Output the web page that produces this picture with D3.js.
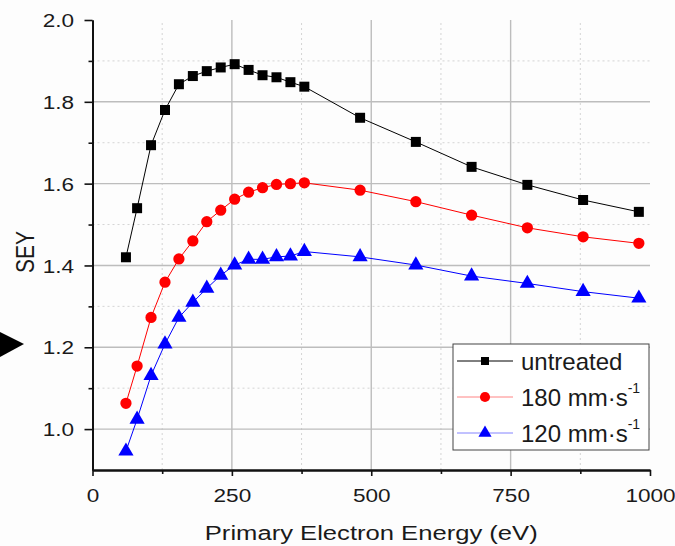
<!DOCTYPE html>
<html>
<head>
<meta charset="utf-8">
<script src="https://cdn.jsdelivr.net/npm/d3@7"></script>
<style>
  body { margin: 0; background: #fdfdfd; }
  svg { display: block; font-family: "Liberation Sans", Arial, sans-serif; }
</style>
</head>
<body>
<svg id="chart" width="675" height="546"></svg>
<script>
// primary electron energy (eV)
var energy = [60, 80, 105, 130, 155, 180, 205, 230, 255, 280, 305, 330, 355, 380, 480, 580, 680, 780, 880, 980];
var untreated = [1.420, 1.540, 1.694, 1.780, 1.843, 1.863, 1.875, 1.884, 1.892, 1.878, 1.865, 1.860, 1.848, 1.837, 1.761, 1.702, 1.641, 1.597, 1.560, 1.531];
var speed180 = [1.063, 1.154, 1.273, 1.359, 1.416, 1.460, 1.507, 1.535, 1.562, 1.579, 1.590, 1.598, 1.600, 1.602, 1.584, 1.556, 1.523, 1.492, 1.470, 1.454];
var speed120 = [0.946, 1.024, 1.131, 1.208, 1.273, 1.310, 1.344, 1.376, 1.401, 1.415, 1.415, 1.421, 1.423, 1.434, 1.421, 1.401, 1.374, 1.356, 1.336, 1.320];

var xMajor = [0, 250, 500, 750, 1000];
var xMinor = [125, 375, 625, 875];
var yMajor = [1.0, 1.2, 1.4, 1.6, 1.8, 2.0];
var yMinor = [1.1, 1.3, 1.5, 1.7, 1.9];

var seriesNames = ["untreated", "180 mm\u00b7s", "120 mm\u00b7s"];
var seriesSup = ["", "-1", "-1"];
var seriesColors = ["#000000", "#ff0000", "#0000ff"];
var seriesShapes = [d3.symbolSquare, d3.symbolCircle, d3.symbolTriangle];

var svg = d3.select("#chart");
var stretch = 1.22; // text in the picture is a bit wider than tall

var x = d3.scaleLinear().domain([0, 1000]).range([92.5, 650]);
var y = d3.scaleLinear().domain([0.9, 2.0]).range([470, 20]);

// grid
var grid = svg.append("g");
grid.selectAll(".vmin").data(xMinor).enter().append("line")
    .attr("x1", d => x(d)).attr("x2", d => x(d))
    .attr("y1", y(0.9)).attr("y2", y(2.0))
    .attr("stroke", "#d4d4d4").attr("stroke-width", 1).attr("stroke-dasharray", "2,3");
grid.selectAll(".hmin").data(yMinor).enter().append("line")
    .attr("x1", x(0)).attr("x2", x(1000))
    .attr("y1", d => y(d)).attr("y2", d => y(d))
    .attr("stroke", "#d4d4d4").attr("stroke-width", 1).attr("stroke-dasharray", "2,3");
grid.selectAll(".vmaj").data(xMajor.slice(1, 4)).enter().append("line")
    .attr("x1", d => x(d)).attr("x2", d => x(d))
    .attr("y1", y(0.9)).attr("y2", y(2.0))
    .attr("stroke", "#bdbdbd").attr("stroke-width", 1.4);
grid.selectAll(".hmaj").data(yMajor.slice(0, 5)).enter().append("line")
    .attr("x1", x(0)).attr("x2", x(1000))
    .attr("y1", d => y(d)).attr("y2", d => y(d))
    .attr("stroke", "#bdbdbd").attr("stroke-width", 1.4);

// axes
var xAxis = svg.append("g").attr("transform", "translate(0," + y(0.9) + ")")
    .call(d3.axisBottom(x).tickValues(xMajor).tickSize(6).tickSizeOuter(0).tickFormat(d3.format("d")));
var xAxisMinor = svg.append("g").attr("transform", "translate(0," + y(0.9) + ")")
    .call(d3.axisBottom(x).tickValues(xMinor).tickSize(4).tickSizeOuter(0).tickFormat(""));
var yAxis = svg.append("g").attr("transform", "translate(" + x(0) + ",0)")
    .call(d3.axisLeft(y).tickValues(yMajor).tickSize(8).tickSizeOuter(0).tickFormat(d3.format(".1f")));
var yAxisMinor = svg.append("g").attr("transform", "translate(" + x(0) + ",0)")
    .call(d3.axisLeft(y).tickValues(yMinor).tickSize(4).tickSizeOuter(0).tickFormat(""));

[xAxis, xAxisMinor, yAxis, yAxisMinor].forEach(function (a) {
    a.select(".domain").attr("stroke", "#111").attr("stroke-width", 2);
    a.selectAll(".tick line").attr("stroke", "#111").attr("stroke-width", 1.6);
});
xAxis.selectAll(".tick text")
    .attr("font-size", 18.5).attr("fill", "#1a1a1a")
    .attr("y", 0).attr("dy", 0)
    .attr("transform", "translate(0,32) scale(" + stretch + ",1)");
yAxis.selectAll(".tick text")
    .attr("font-size", 18.5).attr("fill", "#1a1a1a")
    .attr("x", 0).attr("dy", "0.36em")
    .attr("transform", "translate(-18.5,0) scale(" + stretch + ",1)");

// axis titles
svg.append("text")
    .attr("transform", "translate(" + x(500) + ",540) scale(" + stretch + ",1)")
    .attr("text-anchor", "middle").attr("font-size", 21).attr("fill", "#1a1a1a")
    .text("Primary Electron Energy (eV)");
svg.append("text")
    .attr("transform", "translate(34," + 252 + ") scale(" + stretch + ",1) rotate(-90)")
    .attr("text-anchor", "middle").attr("font-size", 21).attr("fill", "#1a1a1a")
    .text("SEY");

// arrow pointer on the left
svg.append("path")
    .attr("d", "M0,332 L24,344 L0,357 Z")
    .attr("fill", "#000");

// series
var allSeries = [untreated, speed180, speed120];
var markerSizes = [100, 100, 100];
var line = d3.line().x(d => x(d[0])).y(d => y(d[1]));

allSeries.forEach(function (vals, i) {
    var pts = energy.map((e, j) => [e, vals[j]]);
    svg.append("path")
        .datum(pts)
        .attr("d", line)
        .attr("fill", "none")
        .attr("stroke", seriesColors[i])
        .attr("stroke-width", 1);
    svg.append("g").selectAll("path").data(pts).enter().append("path")
        .attr("transform", d => "translate(" + x(d[0]) + "," + y(d[1]) + ")")
        .attr("d", d3.symbol().type(seriesShapes[i]).size(markerSizes[i]))
        .attr("fill", seriesColors[i]);
});

// legend
var legend = svg.append("g").attr("transform", "translate(453,344)");
legend.append("rect")
    .attr("width", 196).attr("height", 106)
    .attr("fill", "#fff").attr("stroke", "#444").attr("stroke-width", 1);
var legendSizes = [64, 80, 75];
seriesNames.forEach(function (name, i) {
    var ly = 17 + i * 36;
    legend.append("line")
        .attr("x1", 4).attr("x2", 60).attr("y1", ly).attr("y2", ly)
        .attr("stroke", seriesColors[i]).attr("stroke-width", i === 0 ? 1 : 0.8)
        .attr("opacity", i === 0 ? 1 : 0.6);
    legend.append("path")
        .attr("transform", "translate(32," + ly + ")")
        .attr("d", d3.symbol().type(seriesShapes[i]).size(legendSizes[i]))
        .attr("fill", seriesColors[i]);
    var t = legend.append("text")
        .attr("x", 68).attr("y", ly).attr("dy", "0.36em")
        .attr("font-size", 24).attr("fill", "#1a1a1a")
        .text(name);
    if (seriesSup[i]) {
        t.append("tspan").attr("font-size", 14).attr("dy", "-0.9em").text(seriesSup[i]);
    }
});
</script>
</body>
</html>
